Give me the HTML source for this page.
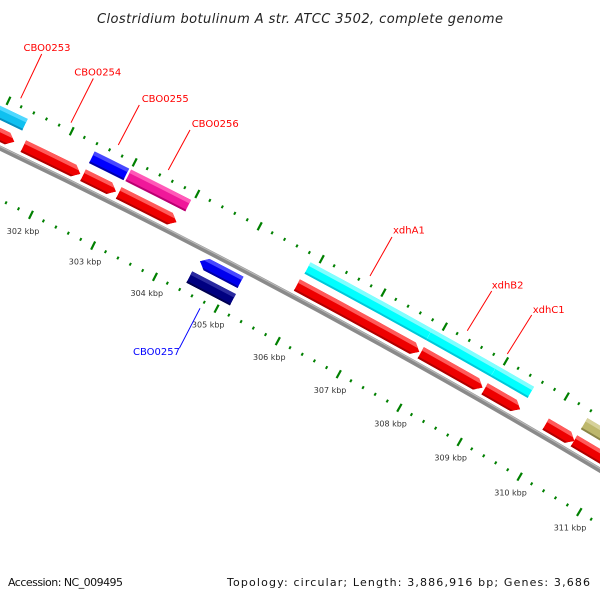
<!DOCTYPE html>
<html><head><meta charset="utf-8"><style>
html,body{margin:0;padding:0;background:#fff;}
svg{display:block;}
</style></head><body>
<svg id="map" width="600" height="600" viewBox="0 0 600 600" xmlns="http://www.w3.org/2000/svg">
<rect x="0" y="0" width="600" height="600" fill="#fff"/>
<g id="rings"></g>
<g id="feat"></g>
<g id="labels"></g>
<text x="300" y="23" text-anchor="middle" font-family="DejaVu Sans, sans-serif" font-style="italic" font-size="13" fill="#222" textLength="406">Clostridium botulinum A str. ATCC 3502, complete genome</text>
<text x="8" y="586" font-family="DejaVu Sans, sans-serif" font-size="11" fill="#111" textLength="115">Accession: NC_009495</text>
<text x="590" y="586" text-anchor="end" font-family="DejaVu Sans, sans-serif" font-size="11" fill="#111" textLength="363">Topology: circular; Length: 3,886,916 bp; Genes: 3,686</text>
</svg>
<script>
// ---- data (kbp) ----
const fwdCdsStart = [300.3, 301.47, 302.42, 302.99, 305.86, 307.88, 308.93, 309.94, 310.41, 311.12];
const fwdCdsEnd   = [301.33, 302.38, 302.95, 303.92, 307.86, 308.90, 309.52, 310.42, 311.10, 312.2];
const geneNames   = ["CBO0253", "CBO0255", "CBO0256", "xdhA1", "xdhB2", "xdhC1", "gene-olive"];
const geneStart   = [300.3, 302.42, 303.00, 305.88, 307.86, 308.92, 310.41];
const geneEnd     = [301.36, 302.97, 303.96, 307.86, 308.92, 309.53, 312.2];
const geneColors  = ["#10c0f0", "#0000ff", "#f0189a", "#00ffff", "#00ffff", "#00ffff", "#bdb76b"];
const revCdsStart = [304.47];
const revCdsEnd   = [305.13];
const revGeneStart = [304.44];
const revGeneEnd   = [305.15];
const tickMajors = [299,300,301,302,303,304,305,306,307,308,309,310,311,312];
const tickLabels = ["299 kbp","300 kbp","301 kbp","302 kbp","303 kbp","304 kbp","305 kbp","306 kbp","307 kbp","308 kbp","309 kbp","310 kbp","311 kbp","312 kbp"];

// ---- geometry ----
const CX = -3153.8, CY = 6744.6;
const R0 = 7311.6;
function ang(k){ return (26.00 + (k - 302) * 0.5467) * Math.PI / 180; }
function pt(r, k){ const a = ang(k); return [CX + r * Math.sin(a), CY - r * Math.cos(a)]; }
function P(p){ return p[0].toFixed(2) + "," + p[1].toFixed(2); }
const NS = "http://www.w3.org/2000/svg";
function mk(tag, parent, attrs){ const e = document.createElementNS(NS, tag); for (const k in attrs) e.setAttribute(k, attrs[k]); parent.appendChild(e); return e; }

function shape(r1, r2, s, e, dir){
  // dir: 1 = arrow at end, -1 = arrow at start, 0 = none
  const h = 0.11, rm = (r1 + r2) / 2;
  let d;
  if (dir === 1){
    const e2 = Math.max(s, e - h);
    d = "M" + P(pt(r2, s)) + " A" + r2 + "," + r2 + " 0 0 1 " + P(pt(r2, e2)) +
        " L" + P(pt(rm, e)) + " L" + P(pt(r1, e2)) +
        " A" + r1 + "," + r1 + " 0 0 0 " + P(pt(r1, s)) + " Z";
  } else if (dir === -1){
    const s2 = Math.min(e, s + h);
    d = "M" + P(pt(rm, s)) + " L" + P(pt(r2, s2)) + " A" + r2 + "," + r2 + " 0 0 1 " + P(pt(r2, e)) +
        " L" + P(pt(r1, e)) + " A" + r1 + "," + r1 + " 0 0 0 " + P(pt(r1, s2)) + " Z";
  } else {
    d = "M" + P(pt(r2, s)) + " A" + r2 + "," + r2 + " 0 0 1 " + P(pt(r2, e)) +
        " L" + P(pt(r1, e)) + " A" + r1 + "," + r1 + " 0 0 0 " + P(pt(r1, s)) + " Z";
  }
  return d;
}
function arcPath(r, s, e){ return "M" + P(pt(r, s)) + " A" + r + "," + r + " 0 0 1 " + P(pt(r, e)); }

const svg = document.getElementById("map");
const defs = mk("defs", svg, {});
const rings = document.getElementById("rings");
const feat = document.getElementById("feat");
let cid = 0;
function drawFeature(r1, r2, s, e, dir, col, hi, lo, name){
  const id = "c" + (cid++);
  const cp = mk("clipPath", defs, {id: id});
  const d = shape(r1, r2, s, e, dir);
  mk("path", cp, {d: d});
  const g = mk("g", feat, {"clip-path": "url(#" + id + ")"});
  
  
  mk("path", g, {d: d, fill: col});
  mk("path", g, {d: arcPath(r2 - 2, s - 0.2, e + 0.2), fill: "none", stroke: hi, "stroke-width": 4});
  mk("path", g, {d: arcPath(r1 + 1, s - 0.2, e + 0.2), fill: "none", stroke: lo, "stroke-width": 2});
}

// tick rings
function tickRing(rc, withLabels, nm){
  const g = mk("g", rings, {});
  
  
  for (let i = 0; i < tickMajors.length; i++){
    const k = tickMajors[i];
    const a = pt(rc - 4.5, k), b = pt(rc + 4.5, k);
    const t = mk("line", g, {x1: a[0], y1: a[1], x2: b[0], y2: b[1], stroke: "#008000", "stroke-width": 2.2});
    
    
    for (let j = 1; j < 5; j++){
      const km = k + j * 0.2;
      const c = pt(rc - 1.5, km), d = pt(rc + 1.5, km);
      const m = mk("line", g, {x1: c[0], y1: c[1], x2: d[0], y2: d[1], stroke: "#008000", "stroke-width": 2});
      
      
    }
    if (withLabels){
      const p = pt(rc - 18, k);
      const tx = mk("text", g, {x: p[0], y: p[1] + 3, "text-anchor": "middle", "font-family": "DejaVu Sans, sans-serif", "font-size": 8, fill: "#333"});
      tx.textContent = tickLabels[i];
      
      
    }
  }
}
tickRing(7358, false, "outer-tick-ring");
tickRing(7265, true, "inner-tick-ring");

// backbone
const bb = mk("path", feat, {d: arcPath(R0, 298, 313), fill: "none", stroke: "#8a8a8a", "stroke-width": 5});


const bb2 = mk("path", feat, {d: arcPath(R0 + 1.5, 298, 313), fill: "none", stroke: "#b8b8b8", "stroke-width": 1.2});



// features
for (let i = 0; i < fwdCdsStart.length; i++)
  drawFeature(7317, 7330, fwdCdsStart[i], fwdCdsEnd[i], 1, "#ee0000", "#ff5a5a", "#b00000", "forward-cds");
for (let i = 0; i < geneStart.length; i++){
  const c = geneColors[i];
  const hi = c === "#00ffff" ? "#80ffff" : c === "#0000ff" ? "#4848ff" : c === "#f0189a" ? "#ff5ab8" : c === "#bdb76b" ? "#d6d19a" : "#50d8ff";
  const lo = c === "#00ffff" ? "#00c8d8" : c === "#0000ff" ? "#0000a8" : c === "#f0189a" ? "#b80070" : c === "#bdb76b" ? "#8a8548" : "#0890c0";
  drawFeature(7337, 7350, geneStart[i], geneEnd[i], 0, c, hi, lo, "gene-" + geneNames[i].toLowerCase());
}
for (let i = 0; i < revCdsStart.length; i++)
  drawFeature(7293, 7306, revCdsStart[i], revCdsEnd[i], -1, "#0000ee", "#4848ff", "#0000a0", "reverse-cds");
for (let i = 0; i < revGeneStart.length; i++)
  drawFeature(7274, 7287, revGeneStart[i], revGeneEnd[i], 0, "#000080", "#2a2aa0", "#000050", "gene-cbo0257");

// labels
const labelText = ["CBO0253","CBO0254","CBO0255","CBO0256","xdhA1","xdhB2","xdhC1","CBO0257"];
const labelX = [23.5, 74.3, 141.7, 191.7, 393, 491.7, 532.7, 133];
const labelY = [51, 75.5, 102, 127, 233.5, 288.5, 313, 355];
const lineX1 = [41.7, 93.3, 139.3, 190, 392, 491.7, 531.7, 179.3];
const lineY1 = [54, 78.5, 105, 130, 237, 291, 315, 348.3];
const lineX2 = [20.7, 71, 118.3, 168.3, 370, 467.3, 507.3, 200];
const lineY2 = [98.3, 122.7, 145, 170, 276, 330.7, 354, 308.3];
const labels = document.getElementById("labels");
for (let i = 0; i < labelText.length; i++){
  const col = i === 7 ? "#0000ff" : "#ff0000";
  const l = mk("line", labels, {x1: lineX1[i], y1: lineY1[i], x2: lineX2[i], y2: lineY2[i], stroke: col, "stroke-width": 1});
  
  
  const t = mk("text", labels, {x: labelX[i], y: labelY[i], "font-family": "DejaVu Sans, sans-serif", "font-size": 10, fill: col});
  t.textContent = labelText[i];
  
  
}
</script>
</body></html>
